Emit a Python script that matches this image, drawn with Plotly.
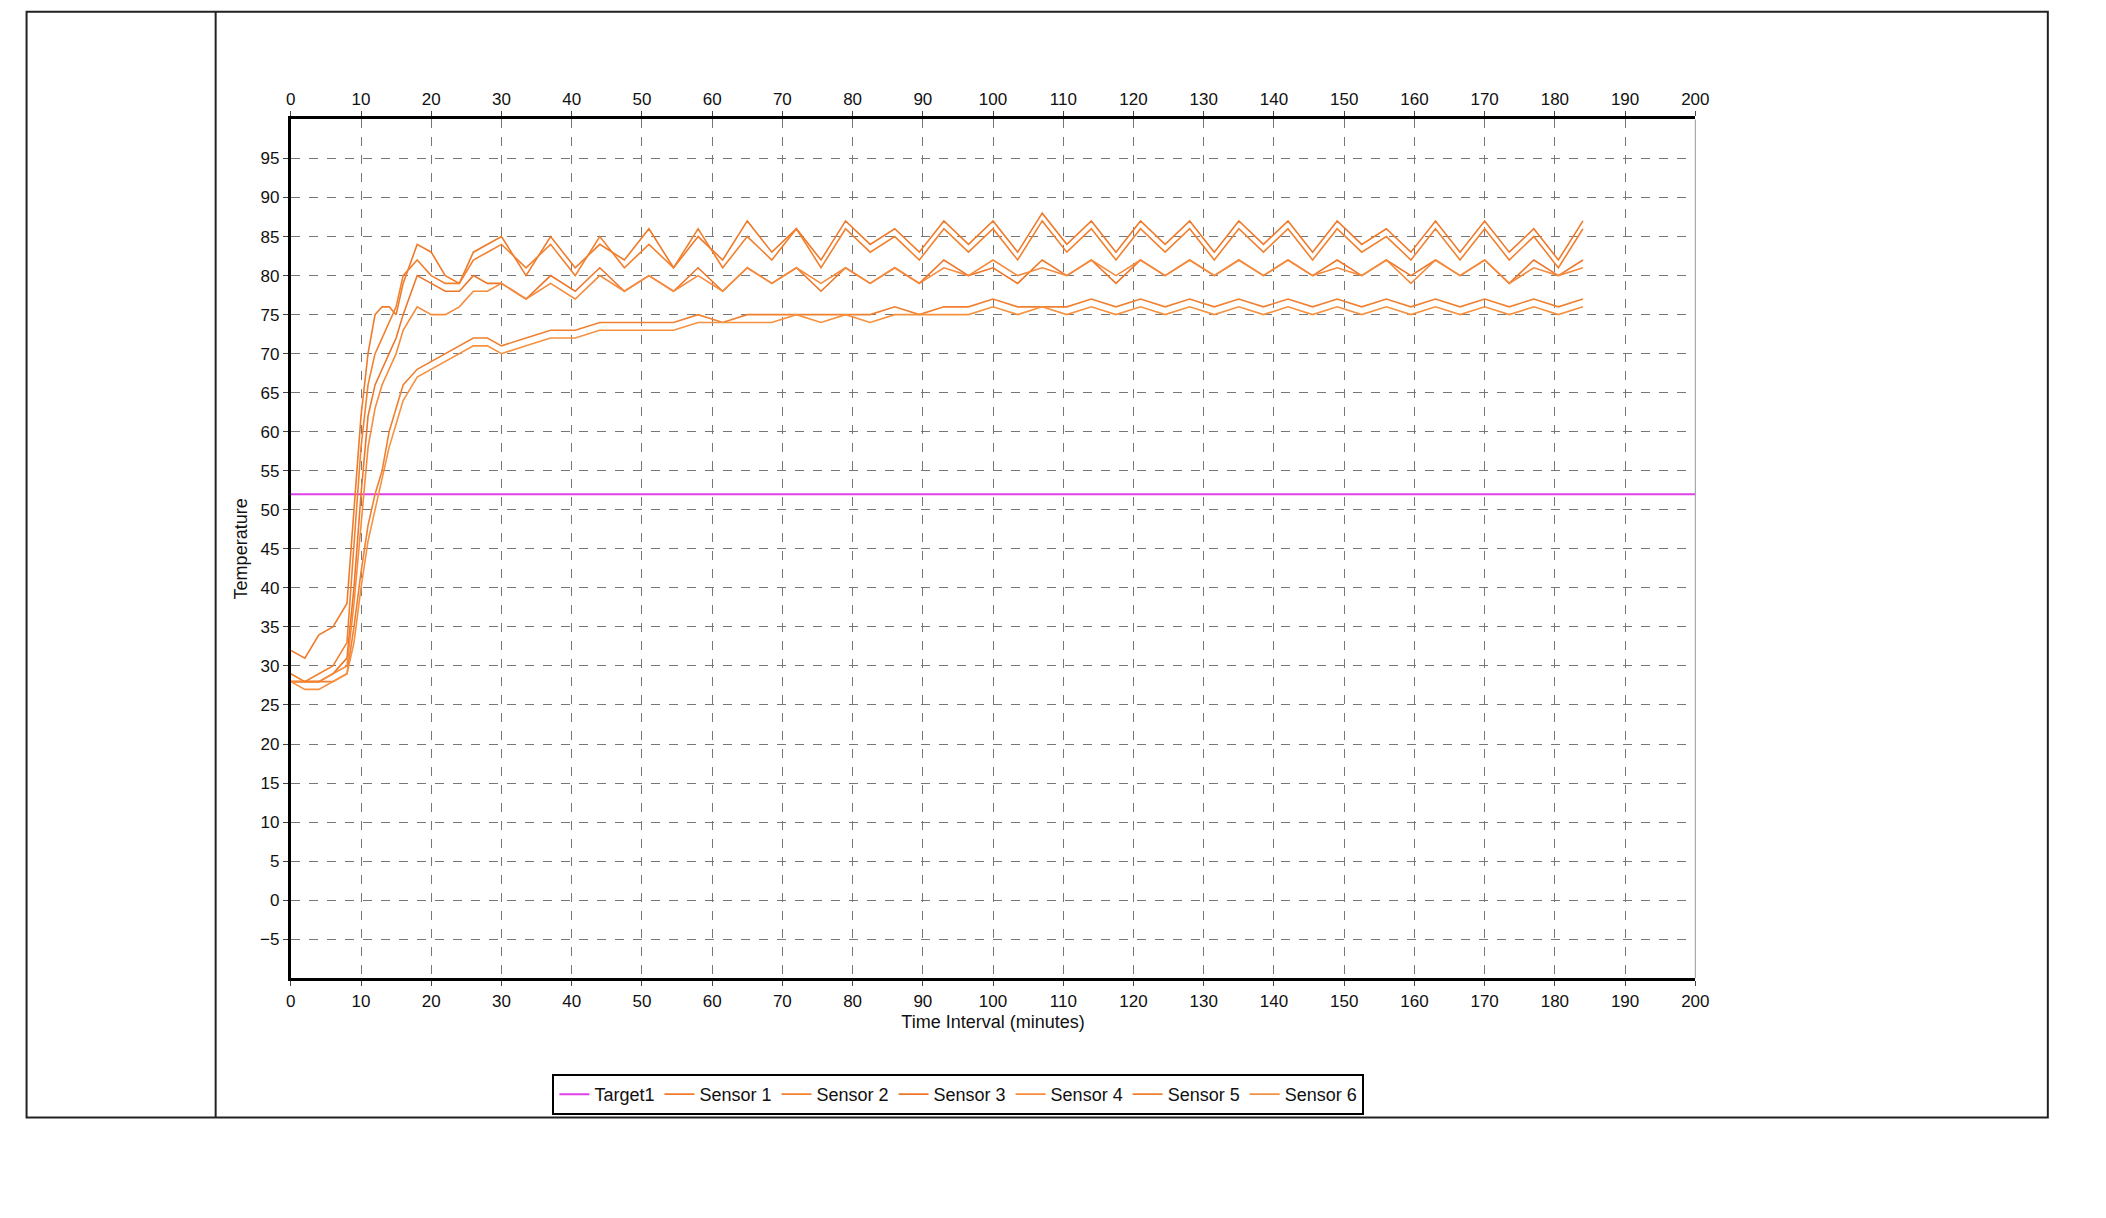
import plotly.graph_objects as go

time = [0,2,4,6,8,9,10,11,12,13,14,15,16,18,20,22,24,26,28,30,
        33.5,37,40.5,44,47.5,51,54.5,58,61.5,65,68.5,72,75.5,79,82.5,86,89.5,93,96.5,100,
        103.5,107,110.5,114,117.5,121,124.5,128,131.5,135,138.5,142,145.5,149,152.5,156,159.5,163,166.5,170,173.5,177,180.5,184]

sensor1 = [32,31,34,35,38,50,62,70,75,76,76,75,79,84,83,80,79,83,84,85,
           80,85,81,84,82,86,81,85,82,87,83,86,82,87,84,86,83,87,84,87,83,88,84,87,
           83,87,84,87,83,87,84,87,83,87,84,86,83,87,83,87,83,86,82,87]
sensor2 = [28,28,29,30,33,45,58,66,70,72,74,76,80,82,80,79,79,82,83,84,
           81,84,80,85,81,84,81,86,81,85,82,86,81,86,83,85,82,86,83,86,82,87,83,86,
           82,86,83,86,82,86,83,86,82,86,83,85,82,86,82,86,82,85,81,86]
sensor3 = [28,28,28,29,31,40,52,62,66,68,70,72,75,80,79,78,78,80,79,79,
           77,80,78,81,78,80,78,81,78,81,79,81,78,81,79,81,79,82,80,81,79,82,80,82,
           79,82,80,82,80,82,80,82,80,82,80,82,80,82,80,82,79,82,80,82]
sensor4 = [28,28,28,29,30,38,48,58,63,66,68,70,73,76,75,75,76,78,78,79,
           77,79,77,80,78,80,78,80,78,81,79,81,79,81,79,81,79,81,80,82,80,81,80,82,
           80,82,80,82,80,82,80,82,80,81,80,82,79,82,80,82,79,81,80,81]
sensor5 = [29,28,28,28,29,35,42,48,52,55,60,63,66,68,69,70,71,72,72,71,
           72,73,73,74,74,74,74,75,74,75,75,75,75,75,75,76,75,76,76,77,76,76,76,77,
           76,77,76,77,76,77,76,77,76,77,76,77,76,77,76,77,76,77,76,77]
sensor6 = [28,27,27,28,29,33,40,46,50,54,58,61,64,67,68,69,70,71,71,70,
           71,72,72,73,73,73,73,74,74,74,74,75,74,75,74,75,75,75,75,76,75,76,75,76,
           75,76,75,76,75,76,75,76,75,76,75,76,75,76,75,76,75,76,75,76]
target_x = [0, 200]
target_y = [52, 52]

names = ["Sensor 1","Sensor 2","Sensor 3","Sensor 4","Sensor 5","Sensor 6"]
series = [sensor1, sensor2, sensor3, sensor4, sensor5, sensor6]
colors = ["#f07a2a","#f2812f","#ee7628","#f58b3d","#f08030","#f5913f"]

fig = go.Figure()
fig.add_trace(go.Scatter(x=target_x, y=target_y, mode="lines", name="Target1",
                         line=dict(color="#e040e8", width=2)))
for n, s, c in zip(names, series, colors):
    fig.add_trace(go.Scatter(x=time, y=s, mode="lines", name=n, line=dict(color=c, width=1.6)))
fig.add_trace(go.Scatter(x=[0, 200], y=[None, None], xaxis="x2", showlegend=False, hoverinfo="skip"))

tf = dict(family="Liberation Sans, Arial", size=17, color="#111")
grid = dict(showgrid=True, gridcolor="#777", griddash="dash", gridwidth=1)
XD = [0.1331, 0.8061]
YD = [0.2034, 0.9085]
fig.update_layout(
    width=2106, height=1218, paper_bgcolor="white", plot_bgcolor="white",
    margin=dict(l=0, r=0, t=0, b=0), font=tf,
    xaxis=dict(domain=XD, range=[0, 200], dtick=10, tickfont=tf,
               showline=True, linecolor="black", linewidth=3, ticks="outside", ticklen=5,
               title=dict(text="Time Interval (minutes)", font=dict(family="Liberation Sans, Arial", size=18), standoff=6),
               zeroline=False, **grid),
    xaxis2=dict(overlaying="x", side="top", range=[0, 200], dtick=10, tickfont=tf,
                showline=True, linecolor="black", linewidth=3, ticks="outside", ticklen=5,
                showgrid=False, zeroline=False, anchor="y"),
    yaxis=dict(domain=YD, range=[-10, 100], tickvals=list(range(-5, 100, 5)), tickfont=tf,
               showline=True, linecolor="black", linewidth=3, ticks="outside", ticklen=5,
               title=dict(text="Temperature", font=dict(family="Liberation Sans, Arial", size=18), standoff=8),
               zeroline=False, **grid),
    legend=dict(orientation="h", x=0.453, xanchor="center", y=0.108, yanchor="middle",
                bordercolor="black", borderwidth=2, font=dict(family="Liberation Sans, Arial", size=18),
                itemwidth=30),
    shapes=[
        dict(type="rect", xref="paper", yref="paper", x0=0.0065, x1=0.975, y0=0.089, y1=0.997,
             line=dict(color="#222", width=2)),
        dict(type="line", xref="paper", yref="paper", x0=0.0971, x1=0.0971, y0=0.089, y1=0.997,
             line=dict(color="#222", width=2)),
        dict(type="line", xref="paper", yref="paper", x0=XD[1], x1=XD[1], y0=YD[0], y1=YD[1],
             line=dict(color="#999", width=1)),
    ],
)
fig.write_html("out.html")
